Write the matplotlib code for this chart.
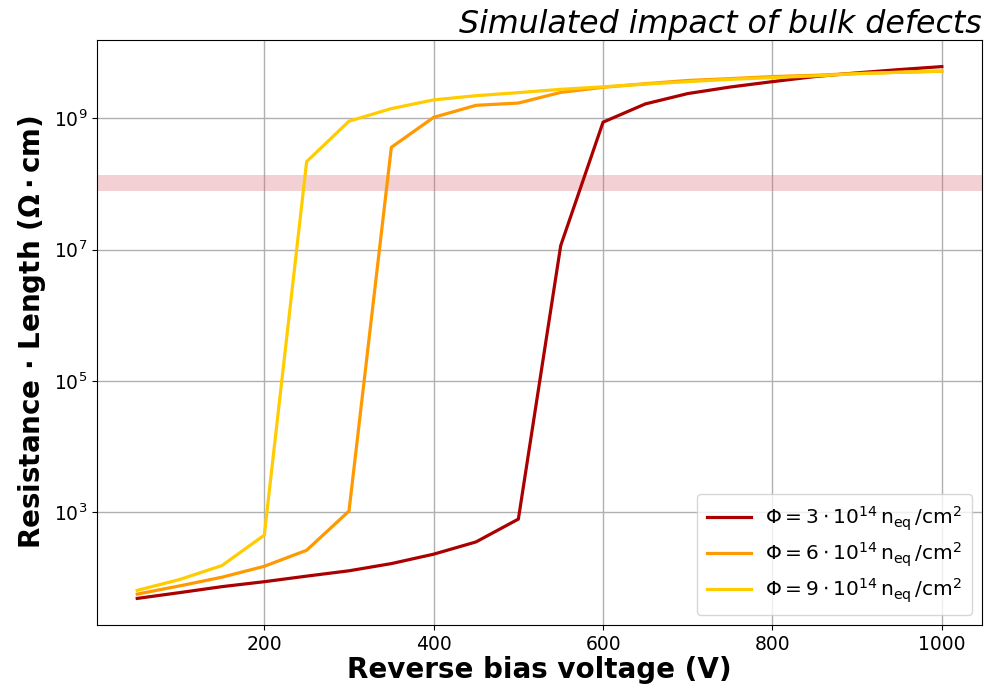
import matplotlib
matplotlib.use("Agg")
import matplotlib.pyplot as plt
import numpy as np

voltage = [50, 100, 150, 200, 250, 300, 350, 400, 450, 500, 550, 600, 650, 700, 750, 800, 850, 900, 950, 1000]

res_3e14 = [49, 60, 74, 88, 107, 129, 166, 231, 355, 790, 1.15e7, 8.7e8, 1.65e9, 2.37e9,
            2.98e9, 3.6e9, 4.3e9, 4.9e9, 5.5e9, 6.1e9]
res_6e14 = [57, 76, 103, 151, 265, 1045, 3.6e8, 1.03e9, 1.57e9, 1.7e9, 2.47e9, 2.95e9, 3.35e9, 3.75e9,
            4.0e9, 4.3e9, 4.5e9, 4.8e9, 5.0e9, 5.2e9]
res_9e14 = [65, 95, 155, 450, 2.18e8, 9.0e8, 1.4e9, 1.9e9, 2.2e9, 2.45e9, 2.75e9, 3.0e9, 3.3e9, 3.6e9,
            3.9e9, 4.15e9, 4.4e9, 4.75e9, 5.0e9, 5.2e9]

labels = [r"$\Phi = 3\cdot 10^{14}\,\mathrm{n_{eq}}\,/\mathrm{cm}^2$",
          r"$\Phi = 6\cdot 10^{14}\,\mathrm{n_{eq}}\,/\mathrm{cm}^2$",
          r"$\Phi = 9\cdot 10^{14}\,\mathrm{n_{eq}}\,/\mathrm{cm}^2$"]
colors = ["#aa0000", "#ff9900", "#ffcc00"]

band = (7.8e7, 1.35e8)

fig = plt.figure(figsize=(9.87, 6.97), dpi=100)
ax = fig.add_axes([0.0983, 0.1033, 0.8967, 0.8393])

ax.axhspan(band[0], band[1], color="#d9666e", alpha=0.3, lw=0, zorder=1)
for ys, c, lab in zip([res_3e14, res_6e14, res_9e14], colors, labels):
    ax.plot(voltage, ys, color=c, lw=2.3, label=lab, zorder=3)

ax.set_yscale("log")
ax.set_yticks([1e3, 1e5, 1e7, 1e9])
ax.minorticks_off()
ax.grid(True, color="#b0b0b0", lw=1)
ax.set_axisbelow(True)
ax.tick_params(labelsize=13.5)
ax.set_xticks([200, 400, 600, 800, 1000])

ax.set_xlabel("Reverse bias voltage (V)", fontsize=20, fontweight="bold", labelpad=2)
ax.set_ylabel(r"Resistance $\mathbf{\cdot}$ Length ($\mathbf{\Omega \cdot cm}$)", fontsize=20,
              fontweight="bold", labelpad=4)
ax.set_title("Simulated impact of bulk defects", loc="right", fontsize=22.8, style="italic", pad=5)

ax.legend(loc="lower right", fontsize=14.5, handlelength=2.2, borderpad=0.5, labelspacing=0.38,
          handletextpad=0.7)

fig.savefig("out.png", dpi=100)
